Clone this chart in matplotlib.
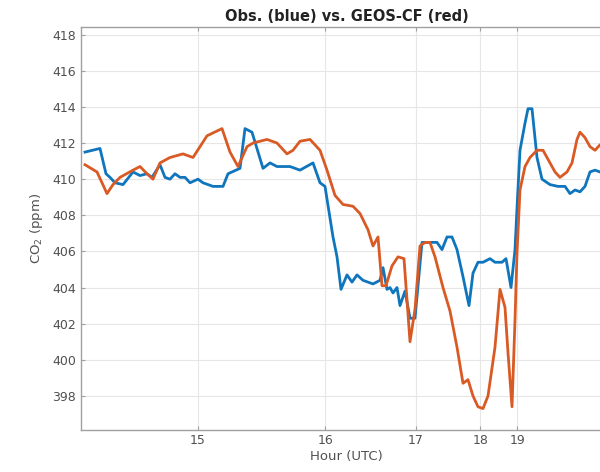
import numpy as np
import matplotlib
matplotlib.use('Agg')
import matplotlib.pyplot as plt

# sample index along the flight track, and CO2 in ppm
obs_t = [1, 4.75, 6.25, 7.25, 8.5, 10.5, 13, 14.75, 16.5, 17.75, 19.75, 21, 22.25, 23.5,
         24.75, 26, 27.25, 29.25, 30.5, 33, 35.5, 36.75, 39.75, 41, 42.75, 45.5, 47.25, 49,
         52.25, 54.75, 58, 59.75, 61, 63, 64, 65, 66.5, 67.75, 69, 70.5, 73, 74.75, 75.5,
         76.5, 77.25, 78, 79, 79.75, 81, 82.25, 83.5, 85.25, 87.25, 89, 90.25, 91.5, 92.75,
         94, 95.5, 97, 98, 99.25, 100.5, 102.25, 103.5, 105.25, 106.25, 107.5, 108.5, 109,
         109.75, 111, 111.75, 112.75, 114, 115.25, 117.25, 119.25, 121, 122.25, 123.5,
         124.75, 126, 127.25, 128.5, 129.75, 132.75]
obs_co2 = [411.5, 411.7, 410.3, 410.1, 409.8, 409.7, 410.4, 410.2, 410.3, 410.1, 410.8, 410.1,
           410.0, 410.3, 410.1, 410.1, 409.8, 410.0, 409.8, 409.6, 409.6, 410.3, 410.6, 412.8,
           412.6, 410.6, 410.9, 410.7, 410.7, 410.5, 410.9, 409.8, 409.6, 406.8, 405.7, 403.9,
           404.7, 404.3, 404.7, 404.4, 404.2, 404.4, 405.1, 403.9, 404.0, 403.7, 404.0, 403.0,
           403.8, 402.3, 402.3, 406.5, 406.5, 406.5, 406.1, 406.8, 406.8, 406.1, 404.6, 403.0,
           404.8, 405.4, 405.4, 405.6, 405.4, 405.4, 405.6, 404.0, 406.1, 408.4, 411.6, 413.1,
           413.9, 413.9, 411.2, 410.0, 409.7, 409.6, 409.6, 409.2, 409.4, 409.3, 409.6, 410.4,
           410.5, 410.4, 410.4]

cf_t = [1, 4, 6.5, 8, 9.75, 13, 14.75, 16.5, 18, 19.75, 22.25, 25.5, 28, 31.5, 35.25, 37.25,
        39.25, 41.5, 43, 46.5, 49, 51.5, 53, 54.75, 57.25, 59.75, 61.5, 63.5, 65.5, 68, 69.75,
        71.75, 73, 74.25, 75.25, 76.25, 77.75, 79.25, 80.75, 82.25, 83.5, 84.75, 86, 87.25,
        88.5, 90.5, 92.25, 94, 95.5, 96.75, 98, 99.25, 100.5, 101.75, 103.5, 104.75, 106,
        106.75, 107.75, 108.5, 109, 109.75, 111, 112.25, 114, 115.5, 117.25, 118.5, 119.75,
        121.5, 122.75, 124, 124.75, 126, 127.25, 128.5, 129.75, 132.75]
cf_co2 = [410.8, 410.4, 409.2, 409.7, 410.1, 410.5, 410.7, 410.3, 410.0, 410.9, 411.2, 411.4,
          411.2, 412.4, 412.8, 411.5, 410.7, 411.8, 412.0, 412.2, 412.0, 411.4, 411.6, 412.1,
          412.2, 411.6, 410.5, 409.1, 408.6, 408.5, 408.1, 407.2, 406.3, 406.8, 404.1, 404.1,
          405.2, 405.7, 405.6, 401.0, 402.8, 406.3, 406.5, 406.5, 405.7, 404.0, 402.7, 400.7,
          398.7, 398.9, 398.0, 397.4, 397.3, 398.0, 400.7, 403.9, 402.9, 400.4, 397.4, 402.2,
          405.9, 409.4, 410.7, 411.2, 411.6, 411.6, 410.9, 410.4, 410.1, 410.4, 410.9, 412.2,
          412.6, 412.3, 411.8, 411.6, 411.9, 412.2]

# sample index where each hour starts
hour_pos = [29.2, 61.1, 83.7, 99.8, 109.1]
hour_lab = ['15', '16', '17', '18', '19']

fig = plt.figure(figsize=(6, 4.72), dpi=100)
ax = fig.add_axes([0.135, 0.09, 0.885, 0.853])

ax.plot(obs_t, obs_co2, color='#0f75bd', lw=2.0)
ax.plot(cf_t, cf_co2, color='#d95a24', lw=2.0)

ax.set_xlim(0, 132.75)
ax.set_ylim(396.14, 418.43)
ax.set_yticks(np.arange(398, 419, 2))
ax.set_xticks(hour_pos)
ax.set_xticklabels(hour_lab)

ax.grid(True, color='#e6e6e6', lw=0.8)
ax.set_axisbelow(True)
for s in ax.spines.values():
    s.set_color('#a0a0a0')
    s.set_linewidth(1.0)
ax.tick_params(direction='in', length=3, top=True, right=True, colors='#a0a0a0',
               labelcolor='#505050', labelsize=9)

ax.set_xlabel('Hour (UTC)', fontsize=9.5, color='#505050', labelpad=2)
ax.set_ylabel('CO$_2$ (ppm)', fontsize=9.5, color='#505050', labelpad=5)
ax.set_title('Obs. (blue) vs. GEOS-CF (red)', fontsize=10.5, fontweight='bold', color='#222222', pad=4)

fig.savefig('out.png', dpi=100)
